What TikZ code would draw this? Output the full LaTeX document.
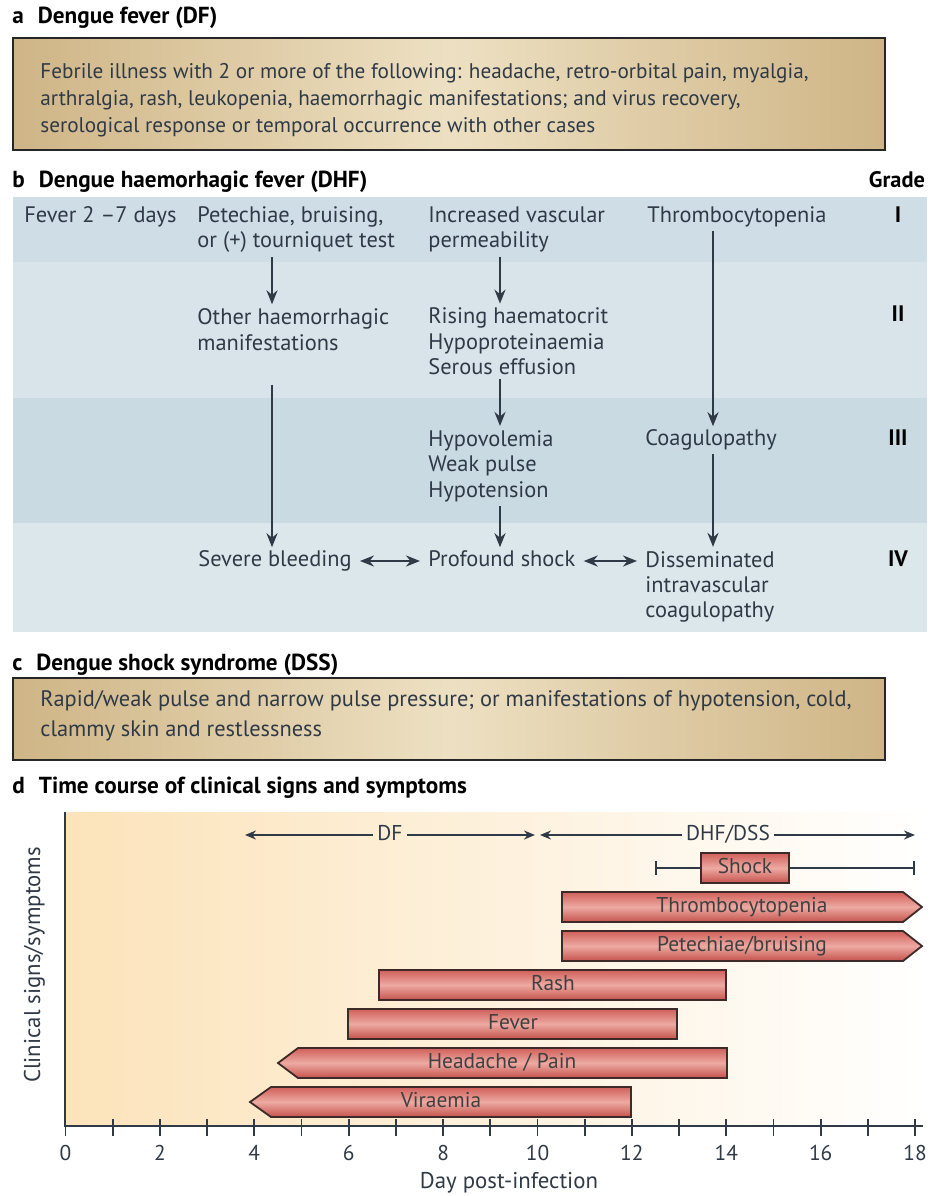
\documentclass[tikz,border=0pt]{standalone}
\usepackage{fontspec}
\setmainfont{PT Sans}
\usetikzlibrary{arrows.meta, positioning, calc}

\definecolor{tanedge}{HTML}{CFB586}
\definecolor{tanmid}{HTML}{EDE0C2}
\definecolor{bandone}{HTML}{CFDEE6}
\definecolor{bandtwo}{HTML}{D8E4EA}
\definecolor{bandthree}{HTML}{CADAE2}
\definecolor{bandfour}{HTML}{DCE7EC}
\definecolor{slate}{HTML}{2F3A46}
\definecolor{plotbg}{HTML}{FCE3BA}
\definecolor{bartop}{HTML}{D0605A}
\definecolor{barmid}{HTML}{EDAAA2}
\definecolor{barbot}{HTML}{C4514C}
\definecolor{baredge}{HTML}{3E2A28}

\tikzset{
  ttl/.style={anchor=west, inner sep=0pt, font=\bfseries\fontsize{11.6}{13}\selectfont},
  txt/.style={anchor=west, inner sep=0pt, align=left, text=slate, font=\fontsize{11.2}{12.7}\selectfont},
  oneline/.style={text height=0.72em, text depth=0.22em},
  grd/.style={inner sep=0pt, text height=0.72em, text depth=0.22em, font=\bfseries\fontsize{11.2}{13}\selectfont},
  flow/.style={-{Stealth[length=7pt,width=5.5pt]}, line width=1.25pt, draw=slate, shorten <=2pt, shorten >=2pt},
  twoway/.style={{Stealth[length=7pt,width=5.5pt]}-{Stealth[length=7pt,width=5.5pt]}, line width=1.25pt, draw=slate, shorten <=4pt, shorten >=4pt},
  phase/.style={-{Stealth[length=5.5pt,width=4.5pt]}, line width=0.9pt, draw=slate},
  tanbox/.style={draw=black!85, line width=1.1pt, left color=tanedge, right color=tanedge, middle color=tanmid},
  symbar/.style={draw=baredge, line width=0.9pt, top color=bartop, bottom color=barbot, middle color=barmid},
  bartxt/.style={inner sep=2pt, text height=0.72em, text depth=0.22em, text=black!75, font=\fontsize{10.7}{12}\selectfont},
}

\begin{document}
\begin{tikzpicture}[x=0.5pt, y=-0.5pt]
\useasboundingbox (0,0) rectangle (933,1196);

% --- a: Dengue fever
\node[ttl] (ta) at (12,18) {a\hspace{7pt}Dengue fever (DF)};
\draw[tanbox] (13,38) rectangle (885,150);
\node[txt, font=\fontsize{10.6}{13.4}\selectfont] (dfdef) at (40,100)
  {Febrile illness with 2 or more of the following: headache, retro-orbital pain, myalgia,\\
   arthralgia, rash, leukopenia, haemorrhagic manifestations; and virus recovery,\\
   serological response or temporal occurrence with other cases};

% --- b: Dengue haemorrhagic fever, bands
\node[ttl] (tb) at (12,182) {b\hspace{7pt}Dengue haemorhagic fever (DHF)};
\node[grd] (grade) at (897,182) {Grade};
\fill[bandone] (13,197) rectangle (927,262);
\fill[bandtwo] (13,262) rectangle (927,398);
\fill[bandthree] (13,398) rectangle (927,523);
\fill[bandfour] (13,523) rectangle (927,632);

% --- b: grade I
\node[txt, oneline] (fev) at (24,217) {Fever 2 –7 days};
\node[txt] (pet) at (197,229.5) {Petechiae, bruising,\\or (+) tourniquet test};
\node[txt] (ivp) at (428,229.5) {Increased vascular\\permeability};
\node[txt, oneline] (thr) at (647,217) {Thrombocytopenia};
\node[grd] (g1) at (898,217) {I};

% --- b: grade II
\node[txt] (ohm) at (197,329.5) {Other haemorrhagic\\manifestations};
\node[txt] (rhc) at (428,341.5) {Rising haematocrit\\Hypoproteinaemia\\Serous effusion};
\node[grd] (g2) at (898,316) {II};

% --- b: grade III
\node[txt] (hyp) at (428,466) {Hypovolemia\\Weak pulse\\Hypotension};
\node[txt, oneline] (coa) at (645,440) {Coagulopathy};
\node[grd] (g3) at (898,440) {III};

% --- b: grade IV
\node[txt, oneline] (sev) at (198,561) {Severe bleeding};
\node[txt, oneline] (pro) at (428,561) {Profound shock};
\node[txt] (dic) at (645,587) {Disseminated\\intravascular\\coagulopathy};
\node[grd] (g4) at (898,561) {IV};

% --- b: arrows
\coordinate (colA) at (272,0);
\coordinate (colB) at (500,0);
\coordinate (colC) at (713,0);
\draw[flow] (pet.south -| colA) -- (ohm.north -| colA);
\draw[flow, shorten <=17pt] (ohm.south -| colA) -- (sev.north -| colA);
\draw[flow] (ivp.south -| colB) -- (rhc.north -| colB);
\draw[flow] (rhc.south -| colB) -- (hyp.north -| colB);
\draw[flow] (hyp.south -| colB) -- (pro.north -| colB);
\draw[flow] (thr.south -| colC) -- (coa.north -| colC);
\draw[flow] (coa.south -| colC) -- (dic.north -| colC);
\draw[twoway] (sev.east) -- (pro.west);
\draw[twoway] (pro.east) -- (dic.west |- pro.east);

% --- c: Dengue shock syndrome
\node[ttl] (tc) at (12,665) {c\hspace{7pt}Dengue shock syndrome (DSS)};
\draw[tanbox] (13,678) rectangle (885,760);
\node[txt, font=\fontsize{11.2}{14.8}\selectfont] (dssdef) at (40,716)
  {Rapid/weak pulse and narrow pulse pressure; or manifestations of hypotension, cold,\\
   clammy skin and restlessness};

% --- d: time course
\node[ttl] (td) at (12,788) {d\hspace{7pt}Time course of clinical signs and symptoms};
\shade[left color=plotbg, right color=white] (65,812) rectangle (925,1125);

\coordinate (ytop) at (65,812);
\coordinate (org) at (65,1126);
\coordinate (xend) at (923,1126);
\draw[line width=1.2pt, slate] (ytop) -- (org) -- (xend);
\foreach \d in {0,...,18}
  \draw[line width=0.9pt, slate] ({65.5+47.2*\d},1119) -- ++(0,17);
\foreach \d in {0,2,...,18}
  \node[bartxt, text=slate] at ({65.5+47.2*\d},1155) {\d};
\node[bartxt, text=slate, font=\fontsize{11.4}{13}\selectfont] (xlab) at (509,1183) {Day post-infection};
\node[bartxt, text=slate, font=\fontsize{11.4}{13}\selectfont, rotate=90] (ylab) at (35,965) {Clinical signs/symptoms};

% phases
\coordinate (dfl) at (245,835);
\coordinate (dfr) at (535,835);
\coordinate (dhfl) at (540,835);
\coordinate (dhfr) at (915,835);
\node[bartxt, text=slate] (df) at (390,835) {DF};
\node[bartxt, text=slate] (dhf) at (728,835) {DHF/DSS};
\draw[phase] (df.west) -- (dfl);
\draw[phase] (df.east) -- (dfr);
\draw[phase] (dhf.west) -- (dhfl);
\draw[phase] (dhf.east) -- (dhfr);

% shock
\coordinate (shl) at (655,868);
\coordinate (shr) at (915,868);
\draw[{Bar[width=7pt]}-{Bar[width=7pt]}, line width=0.9pt, slate] (shl) -- (shr);
\node[symbar, bartxt, minimum width=44pt, minimum height=15pt] (shock) at (745,868) {Shock};

% symptom bars
\draw[symbar] (562,892) -- (903,892) -- (922,907) -- (903,922) -- (562,922) -- cycle;
\node[bartxt] (thrbar) at (742,907) {Thrombocytopenia};
\draw[symbar] (562,931) -- (903,931) -- (922,946) -- (903,961) -- (562,961) -- cycle;
\node[bartxt] (petbar) at (742,946) {Petechiae/bruising};
\draw[symbar] (379,970) rectangle (726,1000);
\node[bartxt] (rashbar) at (553,985) {Rash};
\draw[symbar] (348,1009) rectangle (677,1039);
\node[bartxt] (fevbar) at (513,1024) {Fever};
\draw[symbar] (278,1063) -- (298,1048) -- (727,1048) -- (727,1078) -- (298,1078) -- cycle;
\node[bartxt] (hdbar) at (502,1063) {Headache / Pain};
\draw[symbar] (250,1102) -- (271,1087) -- (631,1087) -- (631,1117) -- (271,1117) -- cycle;
\node[bartxt] (virbar) at (441,1102) {Viraemia};
\end{tikzpicture}
\end{document}
